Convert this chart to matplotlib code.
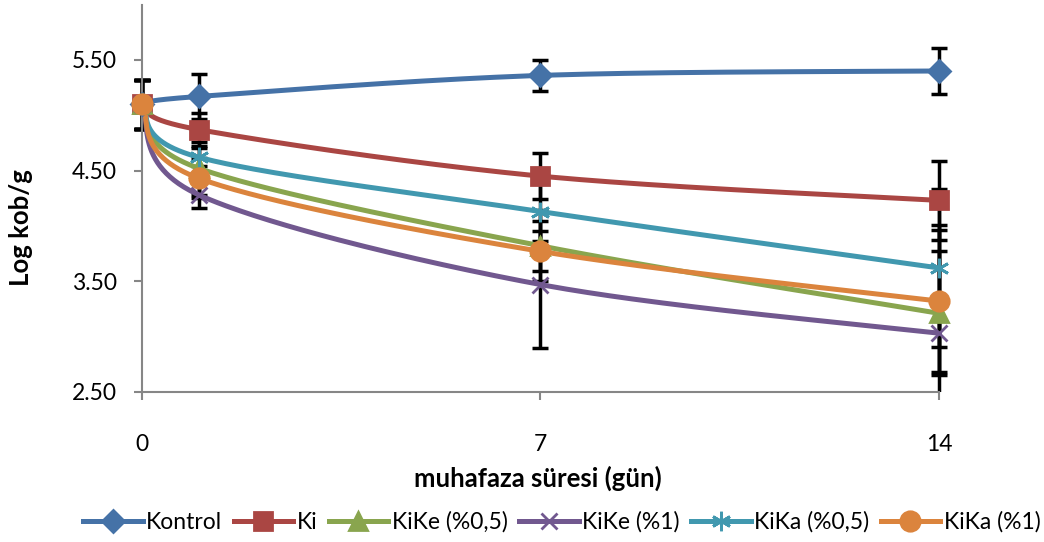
import numpy as np
import matplotlib
matplotlib.use('Agg')
import matplotlib.pyplot as plt
from matplotlib.lines import Line2D
from matplotlib.patches import Rectangle

plt.rcParams['font.family'] = ['Lato', 'DejaVu Sans']

# --- veriler ---
gun = [0, 1, 7, 14]
seri_adlari = ['Kontrol', 'Ki', 'KiKe (%0,5)', 'KiKe (%1)', 'KiKa (%0,5)', 'KiKa (%1)']
kontrol = [5.10, 5.17, 5.36, 5.40]
ki = [5.10, 4.87, 4.45, 4.23]
kike_05 = [5.10, 4.52, 3.82, 3.21]
kike_1 = [5.10, 4.28, 3.47, 3.03]
kika_05 = [5.10, 4.62, 4.13, 3.62]
kika_1 = [5.10, 4.43, 3.77, 3.32]

hata_kontrol = [0.22, 0.20, 0.14, 0.21]
hata_ki = [0.22, 0.15, 0.21, 0.36]
hata_kike_05 = [0.22, 0.24, 0.32, 0.56]
hata_kike_1 = [0.22, 0.12, 0.57, 0.98]
hata_kika_05 = [0.22, 0.08, 0.27, 0.71]
hata_kika_1 = [0.22, 0.18, 0.18, 0.64]

degerler = [kontrol, ki, kike_05, kike_1, kika_05, kika_1]
hatalar = [hata_kontrol, hata_ki, hata_kike_05, hata_kike_1, hata_kika_05, hata_kika_1]
renkler = ['#4572A7', '#AA4643', '#89A54E', '#71588F', '#4198AF', '#DB843D']
isaretler = ['D', 's', '^', 'x', (6, 2, 0), 'o']
isaret_boy = [11, 13, 13, 12, 14, 14]


def excel_egri(ax, x, y, n=60):
    # Excel "düzgün çizgi" benzeri Bezier eğrisi (piksel uzayında)
    P = ax.transData.transform(np.column_stack([x, y]))
    P = np.vstack([P[0], P, P[-1]])
    out = []
    for i in range(1, len(P) - 2):
        p0, p1 = P[i], P[i + 1]
        c1 = p0 + (P[i + 1] - P[i - 1]) / 6.0
        c2 = p1 - (P[i + 2] - P[i]) / 6.0
        t = np.linspace(0, 1, n)[:, None]
        b = (1 - t) ** 3 * p0 + 3 * (1 - t) ** 2 * t * c1 + 3 * (1 - t) * t ** 2 * c2 + t ** 3 * p1
        out.append(b)
    out = np.vstack(out)
    return ax.transData.inverted().transform(out)


fig = plt.figure(figsize=(10.44, 5.42), dpi=100)
ax = fig.add_axes([0.136, 0.277, 0.7634, 0.7145])
ax.set_xlim(0, 14)
ax.set_ylim(2.5, 6.0)

# hata çubukları: yatayda kesilmesin, alt eksende kesilsin
kirpma = Rectangle((-0.1, 0), 1.2, 1.1, transform=ax.transAxes, visible=False)
ax.add_patch(kirpma)
for y, h in zip(degerler, hatalar):
    eb = ax.errorbar(gun, y, yerr=h, fmt='none', ecolor='black', elinewidth=2.5,
                     capsize=6, capthick=2.5, zorder=2)
    for a in eb.lines[1] + eb.lines[2]:
        a.set_clip_path(kirpma)

for ad, y, c, m, ms in zip(seri_adlari, degerler, renkler, isaretler, isaret_boy):
    e = excel_egri(ax, gun, y)
    ax.plot(e[:, 0], e[:, 1], color=c, lw=3.6, zorder=3, solid_capstyle='round')
    ax.plot(gun, y, ls='none', marker=m, ms=ms, color=c, mec=c, mew=2,
            zorder=4, clip_on=False)

ax.set_xticks([0, 7, 14])
ax.set_yticks([2.5, 3.5, 4.5, 5.5])
ax.set_yticklabels([f'{v:.2f}' for v in [2.5, 3.5, 4.5, 5.5]])
ax.tick_params(axis='both', labelsize=16.5, color='#868686', length=6, width=1.5)
ax.tick_params(axis='y', pad=12)
ax.tick_params(axis='x', pad=24)
for s in ['top', 'right']:
    ax.spines[s].set_visible(False)
for s in ['left', 'bottom']:
    ax.spines[s].set_color('#868686')
    ax.spines[s].set_linewidth(1.5)

ax.set_xlabel('muhafaza süresi (gün)', fontsize=18.5, fontweight='bold')
ax.xaxis.set_label_coords(0.497, -0.19)
ax.set_ylabel('Log kob/g', fontsize=18.5, fontweight='bold')
ax.yaxis.set_label_coords(-0.137, 0.424)

tutamaclar = [Line2D([], [], color=c, lw=3.6, marker=m, ms=ms, mec=c, mew=2)
              for c, m, ms in zip(renkler, isaretler, isaret_boy)]
fig.legend(tutamaclar, seri_adlari, loc='center', bbox_to_anchor=(0.538, 0.037),
           ncol=6, frameon=False, fontsize=16.5, handlelength=2.6,
           handletextpad=0.15, columnspacing=0.5)

fig.savefig('out.png', dpi=100)
